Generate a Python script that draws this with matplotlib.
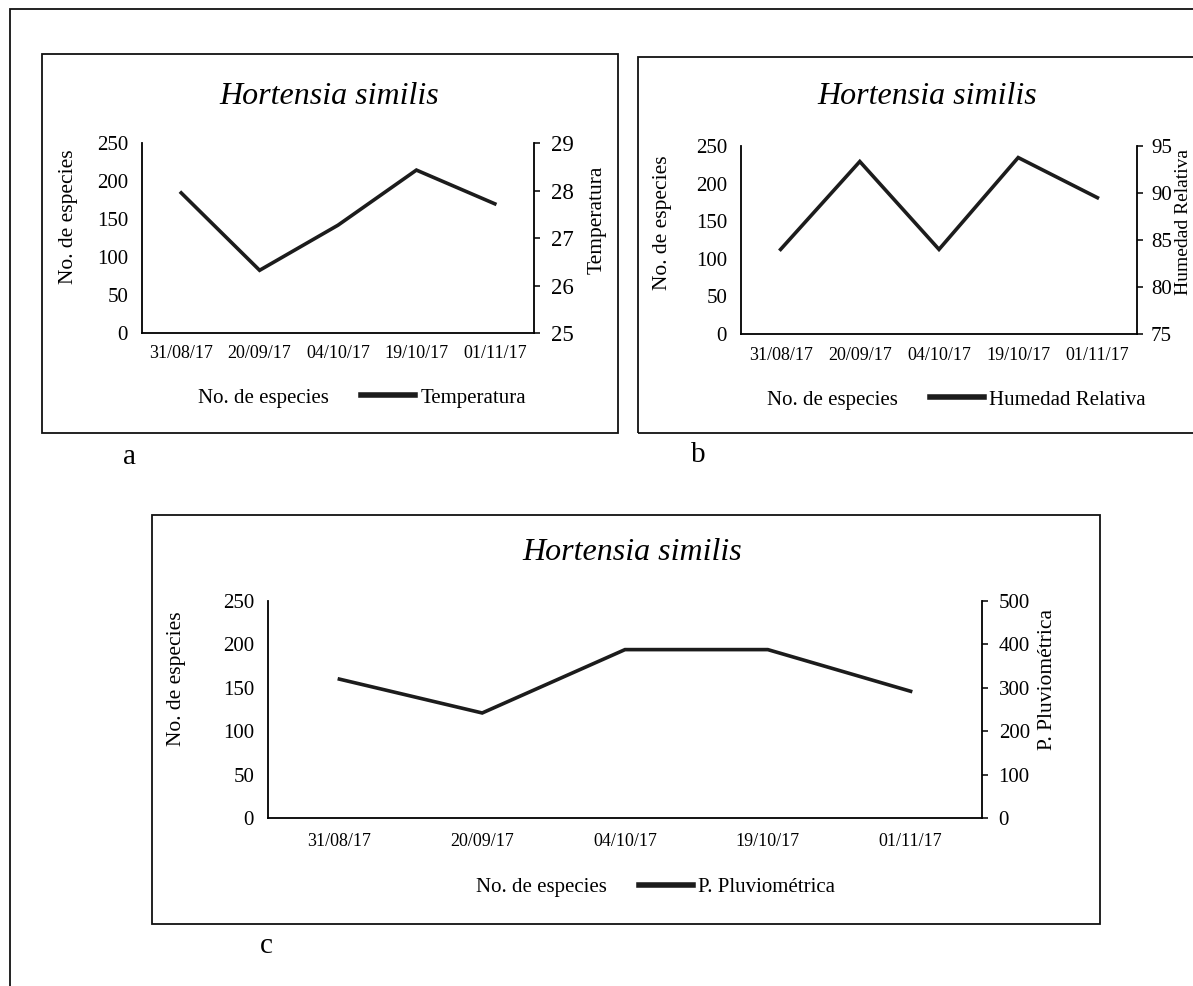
import matplotlib

matplotlib.use("Agg")
import matplotlib.pyplot as plt
import numpy as np
from matplotlib.lines import Line2D
from matplotlib.patches import Patch, Rectangle

W, H = 1193, 986

fechas = ["31/08/17", "20/09/17", "04/10/17", "19/10/17", "01/11/17"]
especies_ticks = [0, 50, 100, 150, 200, 250]

temperatura = [27.95, 26.32, 27.27, 28.43, 27.72]
temp_ticks = [25, 26, 27, 28, 29]

humedad = [84.0, 93.35, 84.0, 93.77, 89.5]
hum_ticks = [75, 80, 85, 90, 95]

pluvio = [320, 242, 388, 388, 292]
pluvio_ticks = [0, 100, 200, 300, 400, 500]

titulo = "Hortensia similis"

plt.rcParams["font.family"] = ["Liberation Serif", "DejaVu Serif"]


def frac(x, y):
    return x / W, 1 - y / H


def rect(x0, y0, x1, y1):
    return [x0 / W, 1 - y1 / H, (x1 - x0) / W, (y1 - y0) / H]


def box(fig, x0, y0, x1, y1, lw=1.3):
    fig.patches.append(
        Rectangle(
            (x0 / W, 1 - y1 / H),
            (x1 - x0) / W,
            (y1 - y0) / H,
            transform=fig.transFigure,
            fill=False,
            edgecolor="#111111",
            linewidth=lw,
        )
    )


def panel(fig, ax_px, values, right_ticks, right_label, p):
    ax = fig.add_axes(rect(*ax_px))
    ax2 = ax.twinx()
    x = np.arange(len(fechas))

    ax.set_xlim(-0.5, len(fechas) - 0.5)
    ax.set_ylim(especies_ticks[0], especies_ticks[-1])
    ax.set_yticks(especies_ticks)
    ax.set_xticks(x, fechas)
    ax.tick_params(axis="x", length=0, pad=p["xpad"], labelsize=13)
    ax.tick_params(axis="y", length=0, pad=10, labelsize=15)
    for s in ("top", "right"):
        ax.spines[s].set_visible(False)
    for s in ("left", "bottom"):
        ax.spines[s].set_linewidth(1.3)

    ax2.plot(x, values, color="#1c1c1c", linewidth=2.6, solid_joinstyle="miter")
    ax2.set_ylim(right_ticks[0], right_ticks[-1])
    ax2.set_yticks(right_ticks)
    ax2.tick_params(axis="y", direction="out", length=4, width=1.1,
                    pad=p.get("rpad", 8), labelsize=p["rsize"])
    for s in ("top", "left", "bottom"):
        ax2.spines[s].set_visible(False)
    ax2.spines["right"].set_linewidth(1.3)

    fig.text(*frac(*p["title"]), titulo, fontsize=23, style="italic",
             ha="center", va="center")
    fig.text(*frac(*p["llabel"]), "No. de especies", fontsize=15.5,
             rotation=90, ha="center", va="center")
    fig.text(*frac(*p["rlabel"]), right_label, fontsize=p.get("rlsize", 15.5),
             rotation=90, ha="center", va="center")

    handles = [
        Patch(facecolor="none", edgecolor="none"),
        Line2D([0], [0], color="#1c1c1c", linewidth=4),
    ]
    fig.legend(
        handles,
        ["No. de especies", right_label],
        loc="center left",
        bbox_to_anchor=frac(*p["legend"]),
        ncol=2,
        frameon=False,
        fontsize=15,
        handlelength=2.6,
        handletextpad=0.25,
        columnspacing=1.55,
        borderaxespad=0,
    )


def main():
    fig = plt.figure(figsize=(W / 100, H / 100), dpi=100)

    # outer frame and panel frames
    box(fig, 10, 9, 1260, 1060)
    box(fig, 42, 54, 618, 433)
    box(fig, 638, 57, 1260, 433)
    box(fig, 152, 515, 1100, 924)

    panel(fig, (142, 143, 534, 333), temperatura, temp_ticks, "Temperatura",
          dict(xpad=9, rsize=16.5, title=(329, 97), llabel=(68, 217),
               rlabel=(597, 220), legend=(130, 398)))
    panel(fig, (741, 146, 1137, 334), humedad, hum_ticks, "Humedad Relativa",
          dict(xpad=9, rsize=15, rpad=6, rlsize=14, title=(927, 97),
               llabel=(663, 223), rlabel=(1183, 222), legend=(699, 400)))
    panel(fig, (268, 601, 982, 818), pluvio, pluvio_ticks, "P. Pluviométrica",
          dict(xpad=11, rsize=15, title=(632, 552), llabel=(177, 679),
               rlabel=(1047, 680), legend=(408, 887)))

    fig.text(*frac(130, 457), "a", fontsize=21, ha="center", va="center")
    fig.text(*frac(698, 455), "b", fontsize=21, ha="center", va="center")
    fig.text(*frac(266, 946), "c", fontsize=21, ha="center", va="center")

    fig.savefig("out.png", dpi=100)
    plt.close(fig)


if __name__ == "__main__":
    main()
